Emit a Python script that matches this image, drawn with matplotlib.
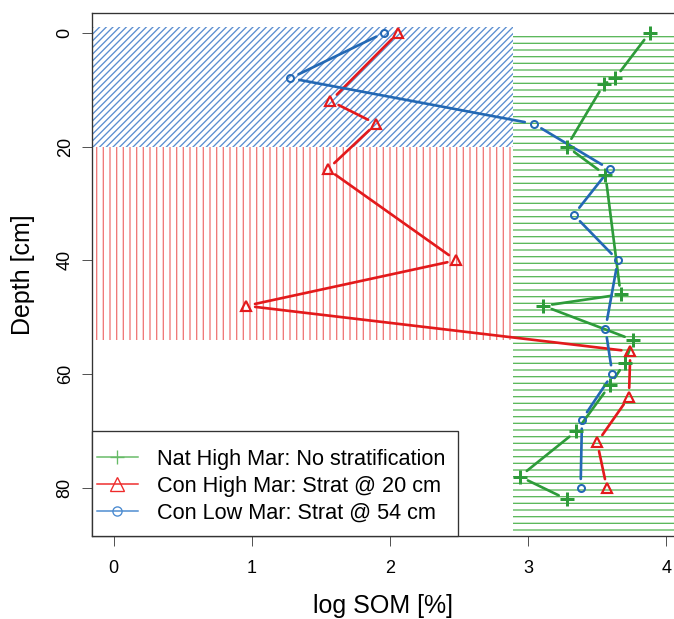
import matplotlib
matplotlib.use("Agg")
from matplotlib import pyplot as plt
from matplotlib.patches import Rectangle
from matplotlib.lines import Line2D
from matplotlib.path import Path
from matplotlib.transforms import offset_copy

plt.rcParams['font.family'] = ['Liberation Sans', 'DejaVu Sans']
plt.rcParams['hatch.linewidth'] = 0.8

# Nat High Mar: No stratification
nat_depth = [0, 8, 9, 20, 25, 46, 48, 54, 58, 62, 70, 78, 82]
nat_som = [3.88, 3.63, 3.55, 3.28, 3.56, 3.67, 3.11, 3.76, 3.70, 3.59, 3.35, 2.94, 3.28]

# Con High Mar: Strat @ 20 cm
conh_depth = [0, 12, 16, 24, 40, 48, 56, 64, 72, 80]
conh_som = [2.06, 1.57, 1.90, 1.55, 2.48, 0.96, 3.74, 3.73, 3.50, 3.57]

# Con Low Mar: Strat @ 54 cm
conl_depth = [0, 8, 16, 24, 32, 40, 52, 60, 68, 80]
conl_som = [1.96, 1.28, 3.04, 3.59, 3.33, 3.65, 3.56, 3.61, 3.39, 3.38]

labels = ["Nat High Mar: No stratification",
          "Con High Mar: Strat @ 20 cm",
          "Con Low Mar: Strat @ 54 cm"]

# shaded zones: (x0, x1, depth top, depth bottom)
zone_split = 2.89
blue_zone = (-1, zone_split, -1, 20)
red_zone = (-1, zone_split, 20, 54)
green_zone = (zone_split, 5, 0, 88)

green = '#2E9B3A'
red = '#E31A1C'
blue = '#2368B4'

fig = plt.figure(figsize=(674 / 120, 619 / 120), dpi=120)
ax = fig.add_axes([92 / 674, (619 - 536) / 619, 1 - 92 / 674, (536 - 13.3) / 619])

for (x0, x1, d0, d1), col, h in [(blue_zone, '#5B8ED0', '//////'),
                                 (red_zone, '#EF7A7A', '|||'),
                                 (green_zone, '#5CB85C', '---')]:
    ax.add_patch(Rectangle((x0, d0), x1 - x0, d1 - d0, facecolor='none',
                           edgecolor=col, linewidth=0, hatch=h, zorder=1))


def draw_series(xs, ds, col, marker, ms, mew):
    # R type="b": segments stop short of the points
    for i in range(len(xs) - 1):
        ax.annotate('', xy=(xs[i + 1], ds[i + 1]), xytext=(xs[i], ds[i]),
                    arrowprops=dict(arrowstyle='-', color=col, lw=1.6,
                                    shrinkA=5.4, shrinkB=5.4), zorder=3)
    ax.plot(xs, ds, ls='none', marker=marker, ms=ms, mew=mew, mfc='none',
            mec=col, zorder=4)


draw_series(nat_som, nat_depth, green, '+', 8, 1.8)
draw_series(conh_som, conh_depth, red, '^', 5.5, 1.3)
draw_series(conl_som, conl_depth, blue, 'o', 4.2, 1.2)

ax.set_xlim(-0.156, 4.056)
ax.set_ylim(88.45, -3.41)
ax.set_xticks([0, 1, 2, 3, 4])
ax.set_yticks([0, 20, 40, 60, 80])
ax.set_yticklabels(['0', '20', '40', '60', '80'], rotation=90, va='center')
ax.tick_params(length=6, width=0.6, color='#555555', labelsize=10.8)
ax.tick_params(axis='x', pad=8.4)
ax.tick_params(axis='y', pad=5)
ax.spines['right'].set_visible(False)
for s in ['left', 'bottom', 'top']:
    ax.spines[s].set_color('#333333')
    ax.spines[s].set_linewidth(0.8)

ax.set_xlabel('log SOM [%]', fontsize=15, labelpad=10.2)
ax.set_ylabel('Depth [cm]', fontsize=15, labelpad=12.8)

EY_BOT = 0.33
EY_TOP = 0.57


# R-style legend box: little inset on the left, more room above/below
def legend_frame(x0, y0, width, height, mutation_size):
    eb = EY_BOT * mutation_size
    et = EY_TOP * mutation_size
    er = 0.35 * mutation_size
    return Path([(x0, y0 - eb), (x0 + width + er, y0 - eb),
                 (x0 + width + er, y0 + height + et), (x0, y0 + height + et),
                 (x0, y0 - eb)], closed=True)


handles = [Line2D([], [], color='#66BB66', marker='+', ms=8, mew=0.8, lw=0.9),
           Line2D([], [], color='#EE2A2A', marker='^', ms=8, mew=0.8, lw=0.9, mfc='none'),
           Line2D([], [], color='#4A8AD0', marker='o', ms=5.5, mew=0.8, lw=0.9, mfc='none')]
leg = ax.legend(handles, labels, loc='lower left', bbox_to_anchor=(0, 0),
                bbox_transform=offset_copy(ax.transAxes, fig=fig, y=EY_BOT * 13, units='points'),
                borderaxespad=0, fontsize=13, fancybox=False, framealpha=1,
                edgecolor='#333333', handlelength=1.85, handletextpad=0.9,
                labelspacing=0.27, borderpad=0.25)
leg.get_frame().set_linewidth(0.8)
leg.get_frame().set_boxstyle(legend_frame)
leg.set_zorder(5)

plt.savefig('out.png', dpi=120)
